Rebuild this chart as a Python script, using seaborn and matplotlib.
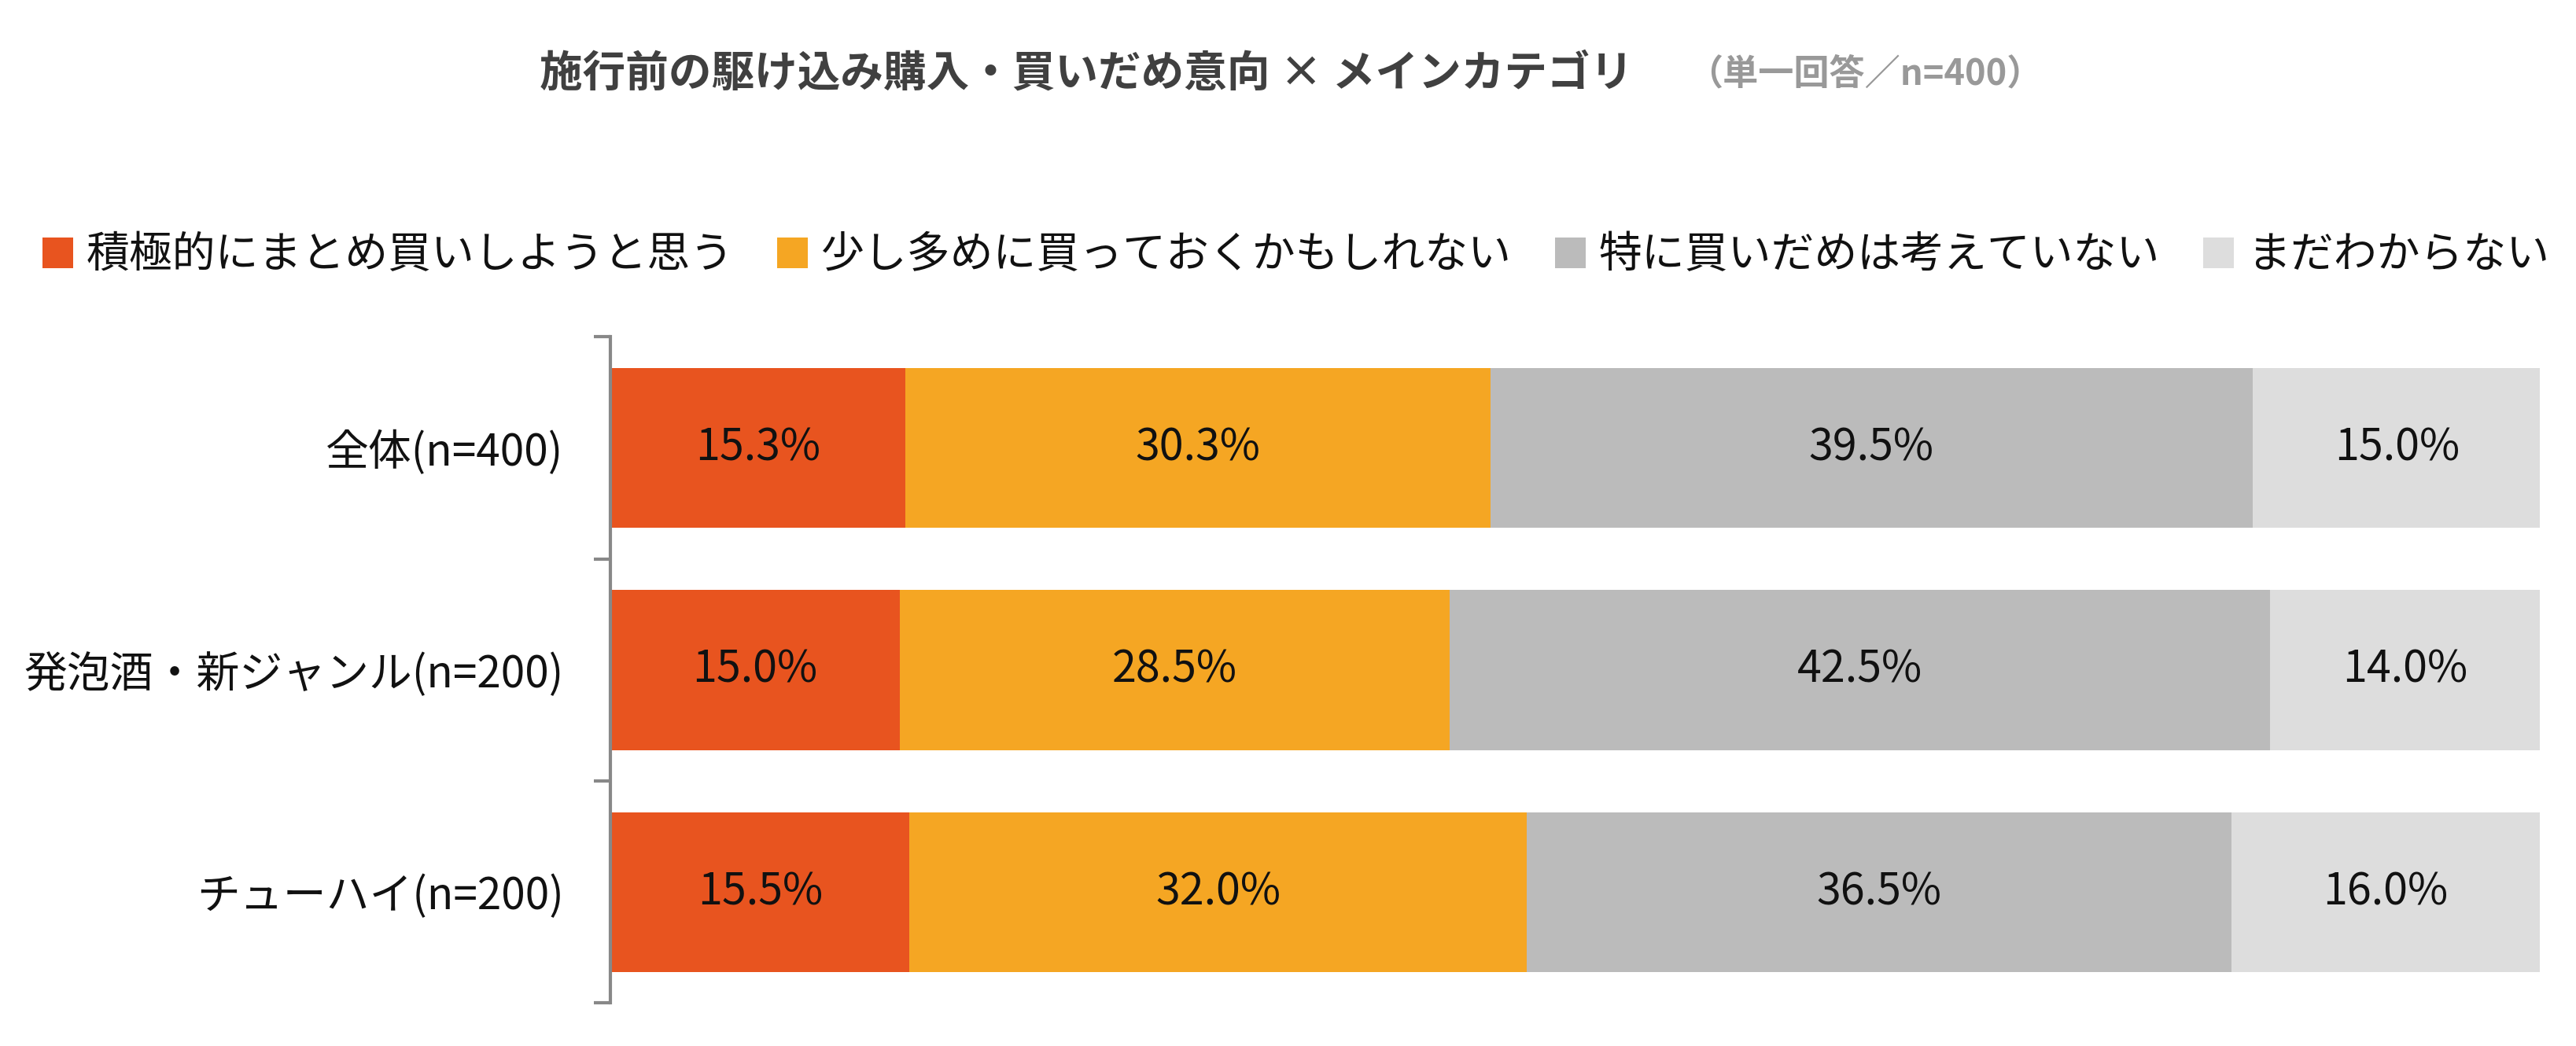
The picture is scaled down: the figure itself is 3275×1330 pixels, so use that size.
import numpy as np
import pandas as pd
import matplotlib.pyplot as plt
import seaborn as sns

# Données
groupes = ['全体(n=400)', '発泡酒・新ジャンル(n=200)', 'チューハイ(n=200)']
reponses = ['積極的にまとめ買いしようと思う', '少し多めに買っておくかもしれない',
            '特に買いだめは考えていない', 'まだわからない']
val_actif = [15.3, 15.0, 15.5]
val_unpeu = [30.3, 28.5, 32.0]
val_non = [39.5, 42.5, 36.5]
val_inconnu = [15.0, 14.0, 16.0]
couleurs = ['#E8541F', '#F5A623', '#BBBBBB', '#DDDDDD']

sns.set_style('white')
plt.rcParams['font.family'] = ['Noto Sans CJK JP', 'DejaVu Sans']

df = pd.DataFrame({'groupe': groupes,
                   reponses[0]: val_actif,
                   reponses[1]: val_unpeu,
                   reponses[2]: val_non,
                   reponses[3]: val_inconnu})
cumul = df[reponses].cumsum(axis=1)

fig = plt.figure(figsize=(32.75, 13.30), dpi=100)
ax = fig.add_axes([0.237, 0.041, 0.749, 0.637])

# Barres empilées : du cumul le plus grand au plus petit
for rep, c in reversed(list(zip(reponses, couleurs))):
    sns.barplot(x=cumul[rep], y=df['groupe'], color=c, orient='h',
                width=0.72, ax=ax, label=rep, saturation=1, linewidth=0)

# Étiquettes de valeurs
for i in range(len(groupes)):
    for rep in reponses:
        v = df.loc[i, rep]
        centre = cumul.loc[i, rep] - v / 2
        ax.text(centre, i, f'{v:.1f}%', ha='center', va='center',
                fontsize=40, color='#111111')

ax.set_xlim(0, 100)
ax.set_ylim(2.5, -0.5)
ax.set_xlabel('')
ax.set_ylabel('')
ax.set_xticks([])
for s in ['top', 'right', 'bottom']:
    ax.spines[s].set_visible(False)
ax.spines['left'].set_color('#888888')
ax.spines['left'].set_linewidth(3)
ax.tick_params(axis='y', which='major', left=False, length=0, pad=43,
               labelsize=39.5, labelcolor='#111111')
ax.set_yticks([-0.5, 0.5, 1.5, 2.5], minor=True)
ax.tick_params(axis='y', which='minor', left=True, length=15, width=3,
               color='#888888')

# Légende
handles, labels = ax.get_legend_handles_labels()
handles, labels = handles[::-1], labels[::-1]
if ax.legend_:
    ax.legend_.remove()
fig.legend(handles, labels, loc='center', bbox_to_anchor=(0.503, 0.756), ncol=4,
           frameon=False, fontsize=39.5, handlelength=0.72, handleheight=0.72,
           handletextpad=0.3, columnspacing=1.0, labelcolor='#111111')

# Titre
fig.text(0.2095, 0.929, '施行前の駆け込み購入・買いだめ意向 × メインカテゴリ',
         fontsize=39.3, fontweight='bold', color='#404040', ha='left', va='center')
fig.text(0.655, 0.929, '（単一回答／n=400）', fontsize=32.5, fontweight='bold',
         color='#999999', ha='left', va='center')

plt.savefig('out.png', dpi=100)
